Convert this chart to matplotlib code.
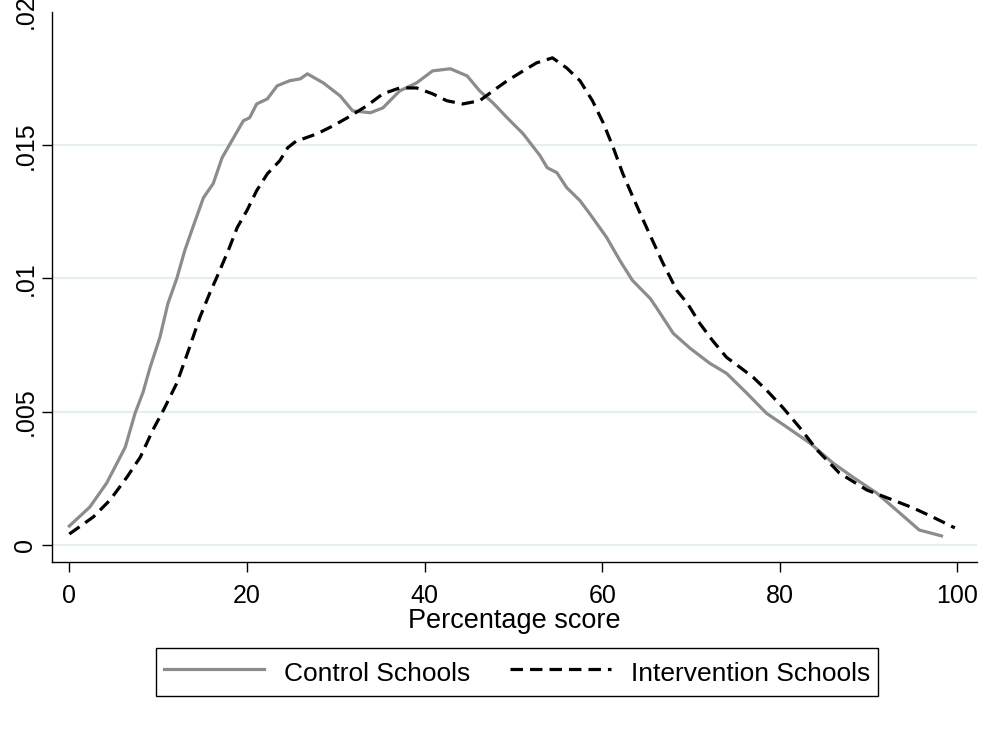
import matplotlib
matplotlib.use("Agg")
import matplotlib.pyplot as plt

plt.rcParams['font.family'] = ['Liberation Sans', 'DejaVu Sans']

# kernel density estimates of the percentage score (density in units of 1e-3)
control_x = [0, 2.3, 4.2, 6.3, 7.4, 8.3, 9.1, 10.2, 11.1, 12.1, 13.0, 13.9, 15.1,
             16.2, 17.2, 18.3, 19.6, 20.3, 21.1, 22.3, 23.4, 24.8, 26.0, 26.8,
             28.6, 30.5, 31.9, 33.9, 35.3, 37.2, 39.1, 40.9, 42.9, 44.8, 46.2,
             47.7, 49.3, 51.1, 53.0, 53.8, 54.9, 56.0, 57.5, 58.6, 60.5, 62.0,
             63.4, 65.4, 66.1, 68.0, 69.9, 72.1, 74.0, 76.3, 78.5, 80.8, 83.4,
             86.0, 88.2, 90.9, 93.5, 95.7, 98.2]
control_y = [0.71, 1.42, 2.32, 3.67, 4.94, 5.73, 6.67, 7.79, 9.06, 10.00, 11.05,
             11.91, 13.03, 13.56, 14.53, 15.17, 15.92, 16.03, 16.55, 16.74, 17.23,
             17.42, 17.49, 17.68, 17.34, 16.85, 16.29, 16.22, 16.40, 17.04, 17.34,
             17.79, 17.87, 17.60, 17.04, 16.59, 16.03, 15.43, 14.61, 14.16, 13.97,
             13.41, 12.92, 12.43, 11.54, 10.67, 9.93, 9.25, 8.91, 7.94, 7.38, 6.82,
             6.44, 5.69, 4.94, 4.42, 3.82, 3.07, 2.55, 1.95, 1.20, 0.56, 0.34]

interv_x = [0, 2.7, 4.6, 6.5, 8.0, 9.4, 10.6, 12.1, 13.3, 14.7, 15.8, 16.6, 17.9,
            18.9, 20.0, 21.1, 22.3, 23.7, 24.6, 25.6, 26.3, 27.9, 29.7, 31.3,
            33.5, 35.3, 37.2, 39.1, 40.9, 42.5, 44.3, 46.2, 47.7, 49.3, 51.1,
            52.6, 54.4, 56.0, 57.5, 58.9, 60.1, 61.2, 62.3, 63.4, 64.6, 65.7,
            66.8, 68.4, 69.6, 71.0, 72.4, 74.0, 75.5, 77.0, 78.5, 80.3, 82.2,
            84.2, 86.7, 89.8, 92.7, 95.0, 97.2, 99.7]
interv_y = [0.41, 1.05, 1.69, 2.55, 3.30, 4.31, 5.06, 6.07, 7.19, 8.54, 9.44,
            10.04, 11.05, 11.91, 12.55, 13.30, 13.93, 14.42, 14.91, 15.17, 15.24,
            15.43, 15.73, 16.03, 16.48, 16.93, 17.15, 17.15, 16.93, 16.67, 16.55,
            16.67, 17.04, 17.42, 17.79, 18.09, 18.28, 17.90, 17.42, 16.67, 15.85,
            14.95, 13.95, 13.10, 12.20, 11.40, 10.60, 9.55, 9.06, 8.31, 7.68,
            7.04, 6.67, 6.29, 5.81, 5.17, 4.42, 3.56, 2.70, 2.06, 1.69, 1.39,
            1.05, 0.64]

x_ticks = [0, 20, 40, 60, 80, 100]
y_ticks = [0, 0.005, 0.01, 0.015, 0.02]
y_tick_labels = ['0', '.005', '.01', '.015', '.02']

W, H = 1001, 729
fig = plt.figure(figsize=(W / 100, H / 100), dpi=100)
ax = fig.add_axes([52 / W, 1 - 562 / H, 925 / W, 550 / H])

ax.plot(control_x, [v / 1000 for v in control_y], color='#8c8c8c', lw=2.3,
        solid_joinstyle='round', label='Control Schools')
ax.plot(interv_x, [v / 1000 for v in interv_y], color='black', lw=2.3,
        dashes=(3.9, 2.2), label='Intervention Schools')

ax.set_xlim(-1.95, 102.2)
ax.set_ylim(-0.00064, 0.02)
ax.set_xticks(x_ticks)
ax.set_yticks(y_ticks)
ax.set_yticklabels(y_tick_labels, rotation=90, va='center')

ax.grid(axis='y', color='#e6eff0', lw=1.6)
ax.set_axisbelow(True)
ax.spines['top'].set_visible(False)
ax.spines['right'].set_visible(False)
for s in ('left', 'bottom'):
    ax.spines[s].set_linewidth(1.0)
ax.tick_params(axis='both', direction='out', length=7.5, width=1.0,
               labelsize=18, colors='black')
ax.tick_params(axis='x', pad=8)
ax.tick_params(axis='y', pad=3)
ax.set_xlabel('Percentage score', fontsize=19.5, labelpad=0)

# the top tick carries neither gridline nor tick mark
top_tick = ax.yaxis.get_major_ticks()[-1]
top_tick.gridline.set_visible(False)
top_tick.tick1line.set_visible(False)

leg = fig.legend(loc='center', bbox_to_anchor=(517 / W, 1 - 672 / H),
                 ncol=2, fontsize=19, frameon=True, fancybox=False,
                 edgecolor='black', framealpha=1, handlelength=3.8,
                 handleheight=1.4, handletextpad=0.76, columnspacing=1.5,
                 borderpad=0.32)
leg.get_frame().set_linewidth(1.0)

fig.savefig('out.png', dpi=100, facecolor='white')
